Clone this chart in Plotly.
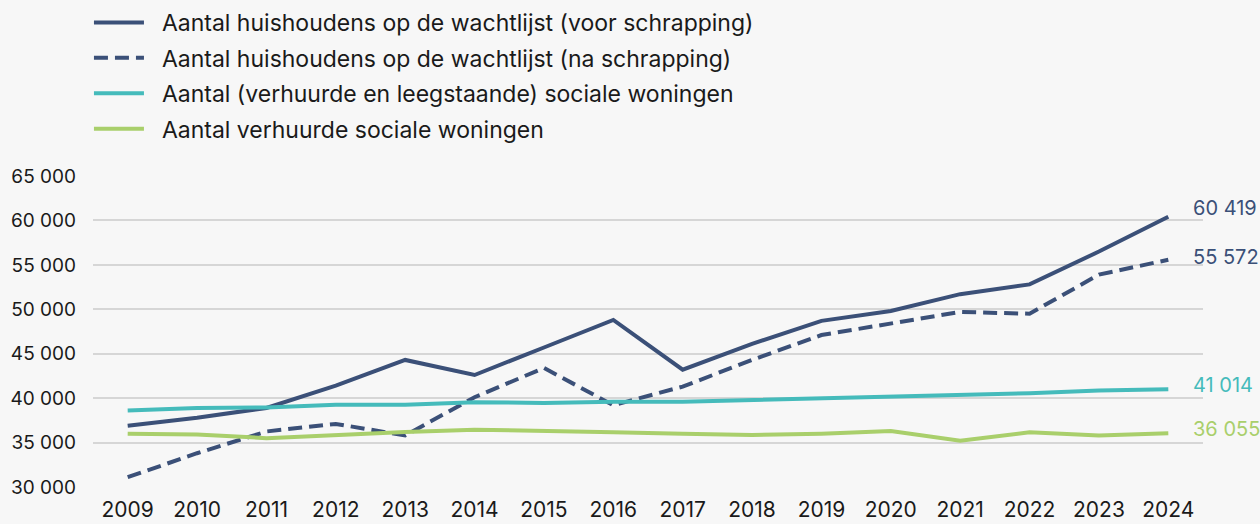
import plotly.graph_objects as go

years = [str(y) for y in range(2009, 2025)]
voor = [36900, 37800, 38900, 41400, 44300, 42600, 45700, 48800, 43200, 46100,
        48700, 49800, 51700, 52800, 56500, 60419]
na = [31100, 33800, 36250, 37100, 35800, 40100, 43400, 39200, 41300, 44300,
      47100, 48400, 49700, 49500, 53900, 55572]
totaal = [38600, 38900, 38950, 39250, 39250, 39550, 39450, 39600, 39600, 39800,
          39950, 40100, 40350, 40550, 40850, 41014]
verhuurd = [36000, 35900, 35500, 35900, 36200, 36450, 36250, 36150, 36000, 35850,
            36000, 36300, 35200, 36150, 35800, 36055]

names = [
    "Aantal huishoudens op de wachtlijst (voor schrapping)",
    "Aantal huishoudens op de wachtlijst (na schrapping)",
    "Aantal (verhuurde en leegstaande) sociale woningen",
    "Aantal verhuurde sociale woningen",
]
NAVY = "#3b5078"
TEAL = "#45bbbb"
GREEN = "#a9cf6b"
FONT = "Inter, Lato, sans-serif"
PAD = "\u00a0\u00a0"

fig = go.Figure()
series = [
    (voor, names[0], NAVY, "solid", 9),
    (na, names[1], NAVY, "14px,7px", 3),
    (totaal, names[2], TEAL, "solid", 4),
    (verhuurd, names[3], GREEN, "solid", 4),
]
for i, (vals, nm, col, dash, ys) in enumerate(series):
    fig.add_trace(go.Scatter(
        x=years, y=vals, name=PAD + nm, mode="lines", legendgroup=f"g{i}",
        line=dict(color=col, width=4, dash=dash),
    ))
    fig.add_annotation(
        x=15, y=vals[-1], xref="x", yref="y",
        text=f"{vals[-1]:,}".replace(",", " "),
        showarrow=False, xanchor="left", xshift=23, yshift=ys,
        font=dict(family=FONT, size=20, color=col),
    )

fig.update_layout(
    width=1260, height=524,
    paper_bgcolor="#f7f7f7", plot_bgcolor="#f7f7f7",
    margin=dict(l=93, r=57, t=176, b=37, autoexpand=False),
    separators=". ",
    font=dict(family=FONT, size=19, color="#1a1a1a"),
    showlegend=True,
    legend=dict(
        x=0.0706, y=1.0 - 1 / 524, xref="container", yref="container",
        xanchor="left", yanchor="top",
        font=dict(family=FONT, size=23, color="#1a1a1a"),
        bgcolor="rgba(0,0,0,0)", tracegroupgap=2.5, itemwidth=50,
        traceorder="grouped",
    ),
    xaxis=dict(
        type="category", range=[-0.5, 15.5], showgrid=False, zeroline=False,
        showline=False, ticks="", tickfont=dict(size=21), tickangle=0,
        fixedrange=True, ticklabelstandoff=8,
    ),
    yaxis=dict(
        range=[30000, 65000], dtick=5000, tickformat=",d",
        showgrid=True, gridcolor="#d6d6d6", gridwidth=1.5, zeroline=False,
        showline=False, ticks="", tickfont=dict(size=19), fixedrange=True,
        ticklabelstandoff=16,
    ),
)
fig.write_html("out.html", config={"displayModeBar": False},
               post_script="document.body.style.margin='0';")
